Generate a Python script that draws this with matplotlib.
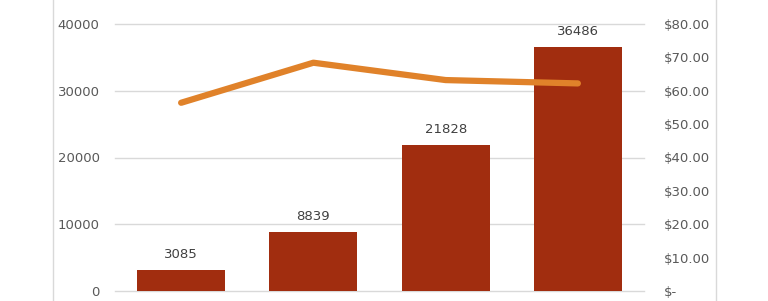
import matplotlib
matplotlib.use('Agg')
import matplotlib.pyplot as plt
from matplotlib.ticker import FuncFormatter
from matplotlib.lines import Line2D

# values
categories = ['A', 'B', 'C', 'D']
volumes = [3085, 8839, 21828, 36486]
prices = [56.4, 68.4, 63.2, 62.2]

bar_color = '#A12D0F'
line_color = '#E0822A'
text_color = '#595959'
grid_color = '#D9D9D9'

fig = plt.figure(figsize=(7.68, 3.01), dpi=100)
ax = fig.add_axes([115 / 768, 10 / 301, 529 / 768, 267 / 301])
x = range(len(categories))

bars = ax.bar(x, volumes, width=0.665, color=bar_color, zorder=2)
for b, v in zip(bars, volumes):
    ax.annotate(str(v), (b.get_x() + b.get_width() / 2, v), xytext=(0, 6.5),
                textcoords='offset points', ha='center', va='bottom',
                fontsize=9.5, color='#404040')

ax.set_xlim(-0.5, 3.5)
ax.set_ylim(0, 40000)
ax.set_yticks([0, 10000, 20000, 30000, 40000])
ax.set_xticks([])
ax.yaxis.grid(True, color=grid_color, linewidth=1, zorder=0)
for gl in ax.get_ygridlines():
    gl.set_clip_on(False)
ax.tick_params(axis='y', length=0, pad=11, labelsize=9.5, labelcolor=text_color)
for s in ax.spines.values():
    s.set_visible(False)

ax2 = ax.twinx()
ax2.plot(x, prices, color=line_color, linewidth=4.5, solid_capstyle='round', zorder=3)
ax2.set_ylim(0, 80)
ax2.set_yticks(range(0, 81, 10))
ax2.yaxis.set_major_formatter(FuncFormatter(lambda v, p: '$-' if v == 0 else '${:.2f}'.format(v)))
ax2.tick_params(axis='y', length=0, pad=14, labelsize=9.5, labelcolor=text_color)
for lbl in ax2.get_yticklabels():
    lbl.set_horizontalalignment('left')
for s in ax2.spines.values():
    s.set_visible(False)

# chart frame edges visible in the crop
fig.add_artist(Line2D([53 / 768, 53 / 768], [0, 1], color='#D9D9D9', linewidth=1))
fig.add_artist(Line2D([716 / 768, 716 / 768], [0, 1], color='#D9D9D9', linewidth=1))

fig.savefig('out.png', dpi=100)
